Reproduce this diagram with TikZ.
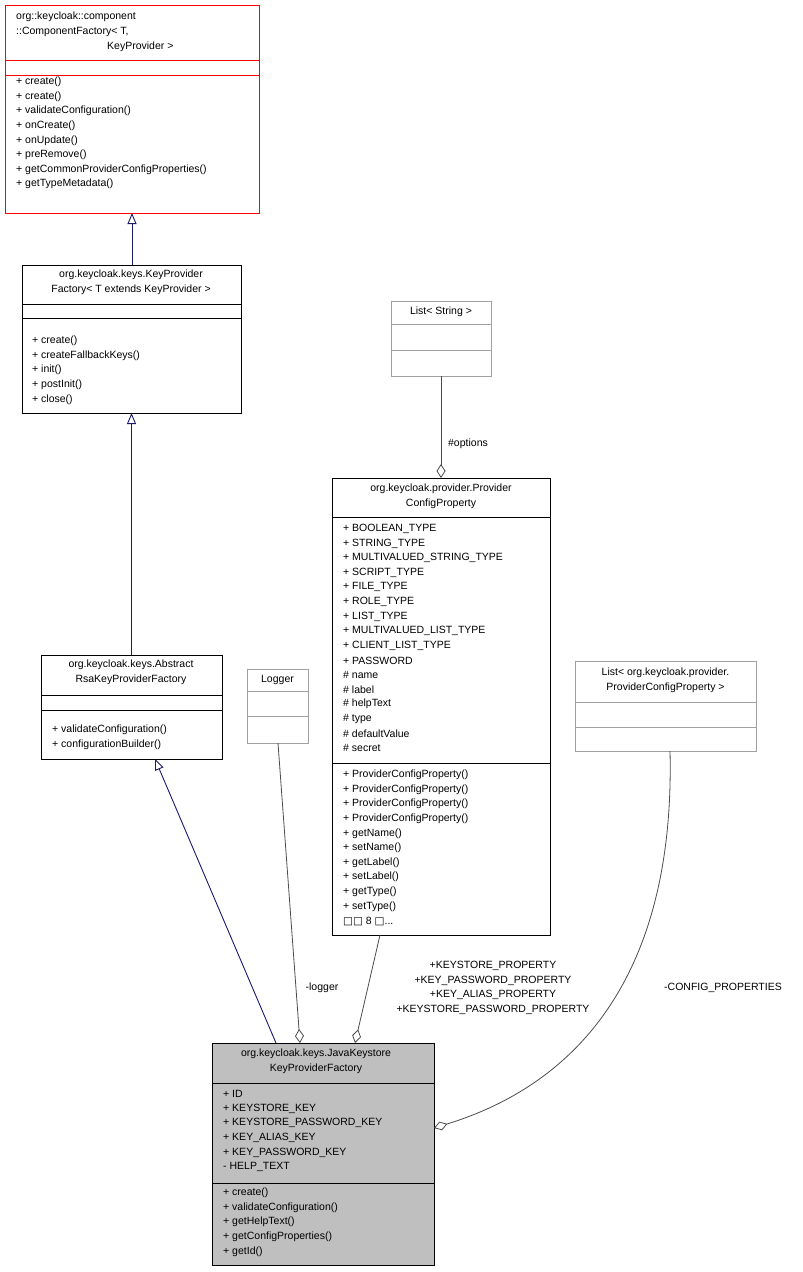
\documentclass[tikz,border=0pt]{standalone}
\usepackage{fontspec}
\setmainfont{Liberation Sans}
\newfontfamily\dejavu{DejaVu Sans}
\usetikzlibrary{arrows.meta,calc}
\definecolor{navy}{HTML}{191970}
\definecolor{grayb}{HTML}{BFBFBF}
\definecolor{lgray}{HTML}{A0A0A0}
\tikzset{
  box/.style={draw, line width=0.9pt, anchor=north west, inner sep=0, outer sep=0},
  t/.style={anchor=west, inner sep=0, font=\fontsize{10.5}{12}\selectfont},
  tc/.style={anchor=center, inner sep=0, font=\fontsize{10.5}{12}\selectfont},
  inh/.style={navy, line width=0.9pt, -{Triangle[open,length=11pt,width=9pt]}},
  agg/.style={line width=0.8pt, draw=black!70, {Diamond[open,length=14pt,width=9pt]}-},
  sep/.style={line width=0.9pt}
}
\newcommand{\lines}[3]{% x, ystart, list
  \foreach \s [count=\i from 0] in {#3} {\node[t] at (#1,{#2+14.6*\i}) {\s};}}
\begin{document}
\begin{tikzpicture}[x=1pt,y=-1pt]
\useasboundingbox (0,0) rectangle (803,1272);
% ComponentFactory
\node[box,draw=red,minimum width=254pt,minimum height=208pt] (cf) at (5,5) {};
\draw[red,sep] (5,60) -- (259,60) (5,75) -- (259,75);
\node[t] at (16,17) {org::keycloak::component};
\node[t] at (16,32) {::ComponentFactory< T,};
\node[t] at (107,47) {KeyProvider >};
\lines{16}{82}{+ create(),+ create(),+ validateConfiguration(),+ onCreate(),+ onUpdate(),+ preRemove(),+ getCommonProviderConfigProperties(),+ getTypeMetadata()}
% KeyProviderFactory
\node[box,minimum width=219pt,minimum height=148pt] (kpf) at (22,265) {};
\draw[sep] (22,304) -- (241,304) (22,318) -- (241,318);
\node[tc] at (131,275) {org.keycloak.keys.KeyProvider};
\node[tc] at (131,290) {Factory< T extends KeyProvider >};
\lines{32}{341}{+ create(),+ createFallbackKeys(),+ init(),+ postInit(),+ close()}
% Abstract
\node[box,minimum width=181pt,minimum height=104pt] (ars) at (41,655) {};
\draw[sep] (41,695) -- (222,695) (41,710) -- (222,710);
\node[tc] at (131,665) {org.keycloak.keys.Abstract};
\node[tc] at (131,680) {RsaKeyProviderFactory};
\lines{52}{730}{+ validateConfiguration(),+ configurationBuilder()}
% Logger
\node[box,draw=lgray,minimum width=61pt,minimum height=74pt] (log) at (247,669) {};
\draw[lgray,sep] (247,691) -- (308,691) (247,716) -- (308,716);
\node[tc] at (277.5,680) {Logger};
% List<String>
\node[box,draw=lgray,minimum width=100pt,minimum height=75pt] (ls) at (391,301) {};
\draw[lgray,sep] (391,324) -- (491,324) (391,350) -- (491,350);
\node[tc] at (441,312) {List< String >};
% ProviderConfigProperty
\node[box,minimum width=218pt,minimum height=457pt] (pcp) at (332,478) {};
\draw[sep] (332,517) -- (550,517) (332,763) -- (550,763);
\node[tc] at (441,489) {org.keycloak.provider.Provider};
\node[tc] at (441,504) {ConfigProperty};
\lines{343}{529}{+ BOOLEAN\_TYPE,+ STRING\_TYPE,+ MULTIVALUED\_STRING\_TYPE,+ SCRIPT\_TYPE,+ FILE\_TYPE,+ ROLE\_TYPE,+ LIST\_TYPE,+ MULTIVALUED\_LIST\_TYPE,+ CLIENT\_LIST\_TYPE,+ PASSWORD,\# name,\# label,\# helpText,\# type,\# defaultValue,\# secret}
\lines{343}{775}{+ ProviderConfigProperty(),+ ProviderConfigProperty(),+ ProviderConfigProperty(),+ ProviderConfigProperty(),+ getName(),+ setName(),+ getLabel(),+ setLabel(),+ getType(),+ setType()}
\node[t] at (343,921) {{\dejavu □□} 8 {\dejavu □}...};
% List<PCP>
\node[box,draw=lgray,minimum width=181pt,minimum height=90pt] (lp) at (575,661) {};
\draw[lgray,sep] (575,702) -- (756,702) (575,727) -- (756,727);
\node[tc] at (665.5,673) {List< org.keycloak.provider.};
\node[tc] at (665.5,688) {ProviderConfigProperty >};
% JavaKeystore
\node[box,fill=grayb,minimum width=222pt,minimum height=222pt] (jk) at (212,1043) {};
\draw[sep] (212,1083) -- (434,1083) (212,1183) -- (434,1183);
\node[tc] at (316,1054) {org.keycloak.keys.JavaKeystore};
\node[tc] at (316,1069) {KeyProviderFactory};
\lines{223}{1094}{+ ID,+ KEYSTORE\_KEY,+ KEYSTORE\_PASSWORD\_KEY,+ KEY\_ALIAS\_KEY,+ KEY\_PASSWORD\_KEY,- HELP\_TEXT}
\lines{223}{1193}{+ create(),+ validateConfiguration(),+ getHelpText(),+ getConfigProperties(),+ getId()}
% edges
\draw[inh] (kpf.north -| cf.south) -- (cf.south);
\draw[inh] (ars.north -| kpf.south) -- (kpf.south);
\coordinate (a1) at (276,1043); \coordinate (a2) at (155,759);
\draw[inh] (a1) -- (a2);
\coordinate (l1) at (300,1043); \coordinate (l2) at (278,743);
\draw[agg] (l1) -- (l2);
\node[tc] (lblog) at (322,988) {-logger};
\coordinate (p1) at (355,1043); \coordinate (p2) at (380,935);
\draw[agg] (p1) -- (p2);
\node[tc,align=center,font=\fontsize{10.5}{14.6}\selectfont] (lbp) at (493,988) {+KEYSTORE\_PROPERTY\\+KEY\_PASSWORD\_PROPERTY\\+KEY\_ALIAS\_PROPERTY\\+KEYSTORE\_PASSWORD\_PROPERTY};
\draw[agg] (pcp.north -| ls.south) -- (ls.south);
\node[tc] (lbo) at (468,444) {\#options};
\coordinate (c1) at (434,1128); \coordinate (c2) at (670,751);
\draw[agg] (c1) .. controls (590,1080) and (675,960) .. (c2);
\node[tc] (lbc) at (723,988) {-CONFIG\_PROPERTIES};
\end{tikzpicture}
\end{document}
